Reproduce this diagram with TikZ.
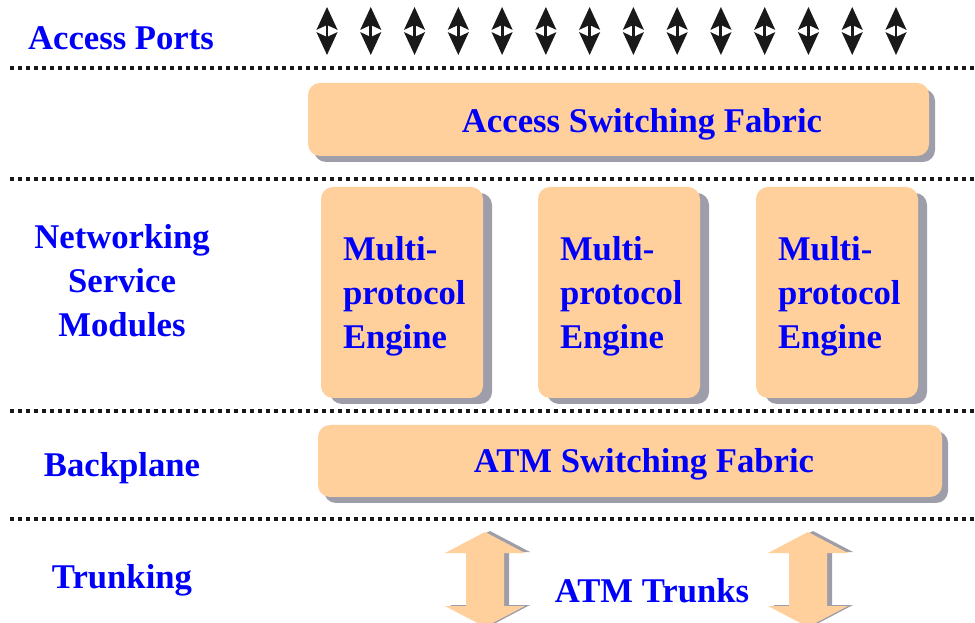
\documentclass[tikz,border=0pt]{standalone}
\usepackage{fontspec}
\setmainfont{Liberation Serif}
\usetikzlibrary{arrows.meta,shadows,calc}

\definecolor{labelblue}{RGB}{0,0,250}
\definecolor{peach}{RGB}{255,208,155}
\definecolor{shade}{RGB}{158,158,170}

\tikzset{
  lbl/.style={text=labelblue, font=\bfseries\fontsize{26}{33}\selectfont, inner sep=0pt},
  panel/.style={fill=peach, draw=none, rounded corners=9pt, inner sep=0pt,
    drop shadow={fill=shade, opacity=1, shadow xshift=#1, shadow yshift=-4.5pt}},
  panel/.default=4.5pt,
  divider/.style={line width=3pt, dash pattern=on 3pt off 3pt, black!90},
  port/.style={line width=2.2pt, black!90,
    {Stealth[length=17pt,width=15.5pt,inset=3.5pt]}-{Stealth[length=17pt,width=15.5pt,inset=3.5pt]}},
  trunk/.style={fill=peach, draw=none},
  trunkshade/.style={fill=shade, draw=none}
}

\begin{document}
\begin{tikzpicture}[x=0.75pt,y=-0.75pt]
\useasboundingbox (0,0) rectangle (975,623);

% layer dividers
\draw[divider] (10,68)  -- (975,68);
\draw[divider] (10,179) -- (975,179);
\draw[divider] (10,411) -- (975,411);
\draw[divider] (10,519) -- (975,519);

% left-hand layer labels
\node[lbl] (lports) at (121,38) {Access Ports};
\node[lbl, align=center] (lnsm) at (122,281) {Networking\\Service\\Modules};
\node[lbl] (lback) at (122,468) {Backplane};
\node[lbl] (ltrunk) at (122,580) {Trunking};

% access ports
\foreach \i in {0,...,13} {
  \coordinate (pt\i) at ({327+\i*43.77},7);
  \coordinate (pb\i) at ({327+\i*43.77},55);
  \draw[port] (pt\i) -- (pb\i);
}

% access switching fabric
\node[panel, minimum width=465.75pt, minimum height=54.75pt] (asf) at (618.5,119.5) {};
\node[lbl] (asftext) at (642,124) {Access Switching Fabric};

% networking service modules
\foreach \cx [count=\k] in {402,619,837} {
  \node[panel=6.75pt, minimum width=121.5pt, minimum height=158.25pt] (mpe\k) at (\cx,292.5) {};
  \node[lbl, align=left, anchor=west] (mpetext\k) at ($(mpe\k.west)+(22,4)$) {Multi-\\protocol\\Engine};
}

% backplane
\node[panel, minimum width=468pt, minimum height=54pt] (atm) at (630,461) {};
\node[lbl] (atmtext) at (644,464) {ATM Switching Fabric};

% trunk arrows
\foreach \cx in {485,808} {
  \fill[trunkshade] ($(\cx,532)+(5,-1)$) -- ++(40,21) -- ++(-21,0) -- ++(0,53) -- ++(21,0)
    -- ++(-40,21) -- ++(-40,-21) -- ++(21,0) -- ++(0,-53) -- ++(-21,0) -- cycle;
  \fill[trunk] (\cx,532) -- ++(40,21) -- ++(-21,0) -- ++(0,53) -- ++(21,0)
    -- ++(-40,21) -- ++(-40,-21) -- ++(21,0) -- ++(0,-53) -- ++(-21,0) -- cycle;
}
\node[lbl] (trunks) at (652,590.5) {ATM Trunks};
\end{tikzpicture}
\end{document}
